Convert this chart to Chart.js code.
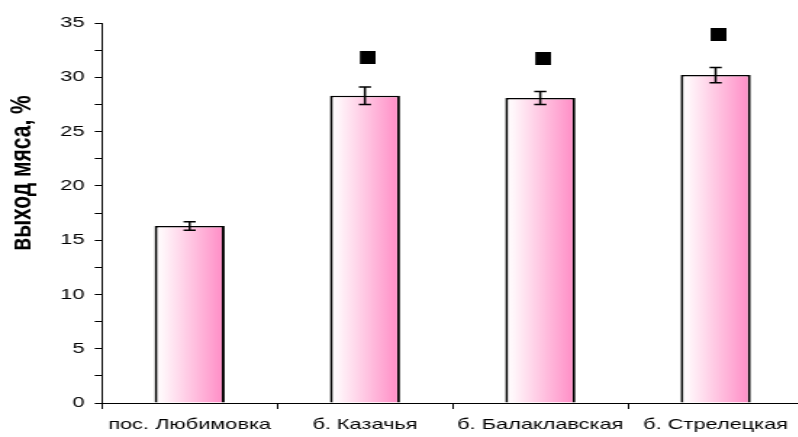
<!DOCTYPE html>
<html lang="ru">
<head>
<meta charset="utf-8">
<title>Выход мяса, %</title>
<script src="https://cdn.jsdelivr.net/npm/chart.js@4.4.1/dist/chart.umd.min.js"></script>
<style>
  html, body { margin: 0; padding: 0; background: #fff; overflow: hidden; }
  #wrap {
    width: 562px; height: 437px;
    transform: scaleX(1.45);
    transform-origin: 0 0;
  }
  canvas { display: block; }
</style>
</head>
<body>
<div id="wrap"><canvas id="chart" width="562" height="437"></canvas></div>
<script>
// Sampling sites
const sites = ['пос. Любимовка', 'б. Казачья', 'б. Балаклавская', 'б. Стрелецкая'];
// Mean meat yield, %
const meatYield = [16.3, 28.3, 28.1, 30.2];
// Error of the mean, %
const meatError = [0.4, 0.8, 0.6, 0.7];
// Significance markers (no marker for the reference site)
const markers = [null, 31.8, 31.7, 33.9];
// Y axis
const yMin = 0, yMax = 35, yStep = 2.5, yLabelStep = 5;
const yTitle = 'выход мяса, %';

const FONT = 'Liberation Sans, Arial, sans-serif';

// black square used as the marker glyph (drawn slightly right of centre)
const markerGlyph = document.createElement('canvas');
markerGlyph.width = 15;
markerGlyph.height = 13;
(function () {
  const g = markerGlyph.getContext('2d');
  g.fillStyle = '#000';
  g.fillRect(4, 0, 11, 13);
})();

function barGradient(c) {
  const ch = c.chart;
  const xs = ch.scales.x;
  if (!xs || c.dataIndex === undefined) return '#ff90c8';
  const cx = xs.getPixelForValue(c.dataIndex);
  if (!isFinite(cx)) return '#ff90c8';
  const half = (xs.width / sites.length) * 0.4 / 2;
  const g = ch.ctx.createLinearGradient(cx - half, 0, cx + half, 0);
  g.addColorStop(0, '#ffffff');
  g.addColorStop(0.12, '#fff6fa');
  g.addColorStop(1, '#ff8bc5');
  return g;
}

// whiskers for the mean ± error
const errorBars = {
  id: 'errorBars',
  afterDatasetsDraw(chart) {
    const meta = chart.getDatasetMeta(0);
    const ys = chart.scales.y;
    const ctx = chart.ctx;
    ctx.save();
    ctx.strokeStyle = '#000';
    ctx.lineWidth = 1.5;
    meta.data.forEach((bar, i) => {
      const x = bar.x;
      const top = ys.getPixelForValue(meatYield[i] + meatError[i]);
      const bot = ys.getPixelForValue(meatYield[i] - meatError[i]);
      const cap = 4.2;
      ctx.beginPath();
      ctx.moveTo(x, top); ctx.lineTo(x, bot);
      ctx.moveTo(x - cap, top); ctx.lineTo(x + cap, top);
      ctx.moveTo(x - cap, bot); ctx.lineTo(x + cap, bot);
      ctx.stroke();
    });
    ctx.restore();
  }
};

// rotated y axis title
const axisTitle = {
  id: 'axisTitle',
  afterDraw(chart) {
    const ctx = chart.ctx;
    ctx.save();
    ctx.font = 'bold 21px ' + FONT;
    ctx.fillStyle = '#000';
    ctx.textAlign = 'center';
    ctx.textBaseline = 'middle';
    ctx.translate(15.3, 173);
    ctx.rotate(-Math.PI / 2);
    ctx.fillText(yTitle, 0, 0);
    ctx.restore();
  }
};

new Chart(document.getElementById('chart'), {
  data: {
    labels: sites,
    datasets: [
      {
        type: 'bar',
        data: meatYield,
        backgroundColor: barGradient,
        borderColor: '#000',
        borderWidth: { top: 1.5, left: 2, right: 2, bottom: 0 },
        borderSkipped: 'bottom',
        barPercentage: 0.4,
        categoryPercentage: 1,
        order: 2
      },
      {
        type: 'line',
        data: markers,
        showLine: false,
        pointStyle: markerGlyph,
        pointRadius: 7,
        pointHoverRadius: 7,
        order: 0
      }
    ]
  },
  options: {
    responsive: false,
    devicePixelRatio: 1,
    animation: false,
    events: [],
    // the x axis runs on past the right edge of the visible page
    layout: { padding: { top: 23, right: 1.7, left: 0, bottom: 0 } },
    plugins: {
      legend: { display: false },
      tooltip: { enabled: false }
    },
    scales: {
      x: {
        type: 'category',
        offset: true,
        grid: {
          offset: true,
          drawOnChartArea: false,
          tickLength: 6,
          color: '#000',
          lineWidth: 1
        },
        border: { color: '#000', width: 1 },
        ticks: {
          color: '#000',
          font: { family: FONT, size: 15 },
          padding: 7,
          maxRotation: 0,
          autoSkip: false
        },
        afterFit(s) {
          s.height = 34;
          s.paddingLeft = 0;
          s.paddingRight = 0;
        }
      },
      y: {
        min: yMin,
        max: yMax,
        grid: {
          drawOnChartArea: false,
          tickLength: 5,
          color: '#000',
          lineWidth: 1
        },
        border: { color: '#000', width: 1 },
        ticks: {
          stepSize: yStep,
          color: '#000',
          font: { family: FONT, size: 15 },
          padding: 7,
          callback: v => (v % yLabelStep === 0 ? v : '')
        },
        afterFit(s) { s.width = 70.3; }
      }
    }
  },
  plugins: [errorBars, axisTitle]
});
</script>
</body>
</html>
